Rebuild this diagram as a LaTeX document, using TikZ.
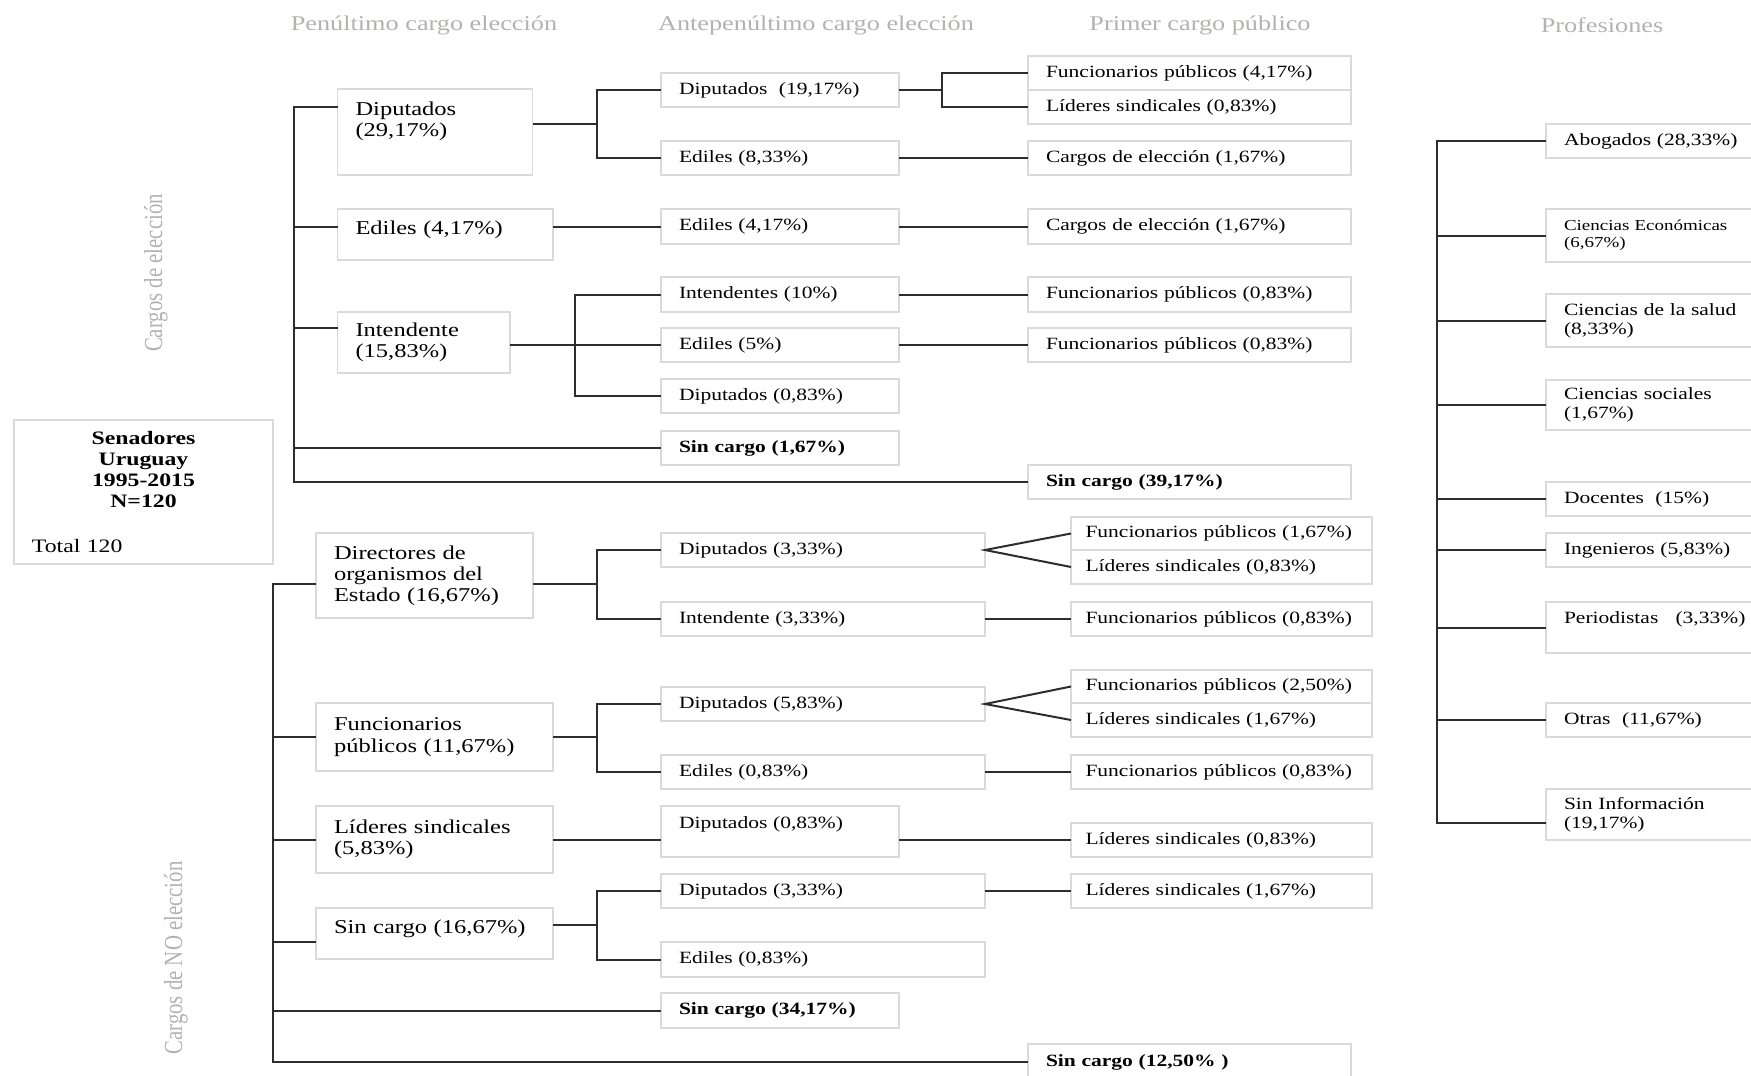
\documentclass[tikz,border=0pt]{standalone}
\usepackage{fontspec}
\setmainfont{Liberation Serif}[FakeStretch=1.25]
\newfontfamily\rotfont{Liberation Serif}[FakeStretch=0.8]
\usepackage{tikz}
\usetikzlibrary{
    positioning,
    calc
}
\definecolor{BoxGray}{RGB}{218,218,218}
\definecolor{LinkGray}{RGB}{45,45,45}
\definecolor{HeadGray}{RGB}{180,178,176}
\newcommand{\fbig}{\fontsize{9.8}{10.6}\selectfont}
\newcommand{\fsen}{\fontsize{9.5}{10.5}\selectfont}
\newcommand{\fmid}{\fontsize{8.6}{9.6}\selectfont}
\newcommand{\fsml}{\fontsize{7.6}{8.5}\selectfont}
\newcommand{\fhead}{\fontsize{10.5}{12}\selectfont}
\newcommand{\pad}[1]{\rule[-#1]{0pt}{#1}}

\begin{document}
\begin{tikzpicture}[
    x=0.5pt, y=-0.5pt,
    box/.style={draw=BoxGray, line width=0.8pt, anchor=north west,
        align=left, inner xsep=9pt, inner ysep=0pt, outer sep=0pt},
    big/.style={box, font=\fbig},
    mid/.style={box, font=\fmid},
    low/.style={mid, text width=136pt, inner xsep=7.25pt},
    link/.style={draw=LinkGray, line width=1pt},
    head/.style={text=HeadGray, font=\fhead},
    side/.style={text=HeadGray, font=\rotfont\fontsize{13}{13}\selectfont, rotate=90}
]

\useasboundingbox (0,0) rectangle (1751,1076);
\clip (0,0) rectangle (1751,1076);

% column titles
\node[head] (H1) at (424,25) {Penúltimo cargo elección};
\node[head] (H2) at (816,25) {Antepenúltimo cargo elección};
\node[head] (H3) at (1200,25) {Primer cargo público};
\node[head] (H4) at (1602,25) {Profesiones};

\node[side] (S1) at (156,273) {Cargos de elección};
\node[side] (S2) at (176,958) {Cargos de NO elección};

% senadores
\node[box, font=\fsen, text width=111.5pt, minimum height=72pt] (sen) at (14,420)
    {{\centering\bfseries Senadores\\Uruguay\\1995-2015\\N=120\par}\vspace{12pt}Total 120};

% cargos de eleccion
\node[big, text width=79.5pt, minimum height=43pt] (dipA) at (337.5,89) {Diputados\\(29,17\%)\pad{12.5pt}};
\node[big, text width=89.75pt, minimum height=25.5pt] (ediA) at (337.5,209) {Ediles (4,17\%)\pad{6.5pt}};
\node[big, text width=68.25pt, minimum height=30.5pt] (intA) at (337.5,312) {Intendente\\(15,83\%)};

\node[mid, text width=101pt, minimum height=17pt] (dipB) at (661,73) {Diputados\ \ (19,17\%)};
\node[mid, text width=101pt, minimum height=17pt] (ediB) at (661,141) {Ediles (8,33\%)};
\node[mid, text width=101pt, minimum height=17.5pt] (ediC) at (661,209) {Ediles (4,17\%)};
\node[mid, text width=101pt, minimum height=17.5pt] (intB) at (661,277) {Intendentes (10\%)};
\node[mid, text width=101pt, minimum height=17pt] (ediD) at (661,328) {Ediles (5\%)};
\node[mid, text width=101pt, minimum height=17pt] (dipC) at (661,379) {Diputados (0,83\%)};
\node[mid, text width=101pt, minimum height=17pt] (sinB) at (661,431) {\bfseries Sin cargo (1,67\%)};

\node[mid, text width=143.5pt, minimum height=17pt] (funA) at (1028,56) {Funcionarios públicos (4,17\%)};
\node[mid, text width=143.5pt, minimum height=17pt] (lidA) at (1028,90) {Líderes sindicales (0,83\%)};
\node[mid, text width=143.5pt, minimum height=17pt] (carA) at (1028,141) {Cargos de elección (1,67\%)};
\node[mid, text width=143.5pt, minimum height=17.5pt] (carB) at (1028,209) {Cargos de elección (1,67\%)};
\node[mid, text width=143.5pt, minimum height=17.5pt] (funB) at (1028,277) {Funcionarios públicos (0,83\%)};
\node[mid, text width=143.5pt, minimum height=17pt] (funC) at (1028,328) {Funcionarios públicos (0,83\%)};
\node[mid, text width=143.5pt, minimum height=17pt] (sinC) at (1028,465) {\bfseries Sin cargo (39,17\%)};

% cargos de NO eleccion
\node[big, text width=90.5pt, minimum height=42.5pt] (dirA) at (316,533) {Directores de\\organismos del\\Estado (16,67\%)};
\node[big, text width=100.5pt, minimum height=34pt] (funD) at (316,703) {Funcionarios\\públicos (11,67\%)};
\node[big, text width=100.5pt, minimum height=33.5pt] (lidD) at (316,806) {Líderes sindicales\\(5,83\%)};
\node[big, text width=100.5pt, minimum height=25.5pt] (sinD) at (316,908) {Sin cargo (16,67\%)\pad{6.5pt}};

\node[mid, text width=144pt, minimum height=17pt] (dipD) at (661,533) {Diputados (3,33\%)};
\node[mid, text width=144pt, minimum height=17pt] (intC) at (661,602) {Intendente (3,33\%)};
\node[mid, text width=144pt, minimum height=17pt] (dipE) at (661,687) {Diputados (5,83\%)};
\node[mid, text width=144pt, minimum height=17pt] (ediE) at (661,755) {Ediles (0,83\%)};
\node[mid, text width=101pt, minimum height=25.5pt] (dipF) at (661,806) {Diputados (0,83\%)\pad{8.5pt}};
\node[mid, text width=144pt, minimum height=17pt] (dipG) at (661,874) {Diputados (3,33\%)};
\node[mid, text width=144pt, minimum height=17.5pt] (ediF) at (661,942) {Ediles (0,83\%)};
\node[mid, text width=101pt, minimum height=17.5pt] (sinE) at (661,993) {\bfseries Sin cargo (34,17\%)};

\node[low, minimum height=16.5pt] (funE) at (1071,517) {Funcionarios públicos (1,67\%)};
\node[low, minimum height=17pt] (lidE) at (1071,550) {Líderes sindicales (0,83\%)};
\node[low, minimum height=17pt] (funF) at (1071,602) {Funcionarios públicos (0,83\%)};
\node[low, minimum height=16.5pt] (funG) at (1071,670) {Funcionarios públicos (2,50\%)};
\node[low, minimum height=17pt] (lidF) at (1071,703) {Líderes sindicales (1,67\%)};
\node[low, minimum height=17pt] (funH) at (1071,755) {Funcionarios públicos (0,83\%)};
\node[low, minimum height=17pt] (lidG) at (1071,823) {Líderes sindicales (0,83\%)};
\node[low, minimum height=17pt] (lidH) at (1071,874) {Líderes sindicales (1,67\%)};
\node[mid, text width=143.5pt, minimum height=18pt] (sinF) at (1028,1044) {\bfseries Sin cargo (12,50\% )};

% profesiones
\node[mid, text width=102pt, minimum height=17pt] (abo) at (1546,124) {Abogados (28,33\%)};
\node[box, font=\fsml, text width=102pt, minimum height=26.5pt] (eco) at (1546,209) {Ciencias Económicas\\(6,67\%)};
\node[mid, text width=102pt, minimum height=26.5pt] (sal) at (1546,294) {Ciencias de la salud\\(8,33\%)};
\node[mid, text width=102pt, minimum height=25pt] (soc) at (1546,380) {Ciencias sociales\\(1,67\%)};
\node[mid, text width=102pt, minimum height=17pt] (doc) at (1546,482) {Docentes\ \ (15\%)};
\node[mid, text width=102pt, minimum height=17pt] (ing) at (1546,533) {Ingenieros (5,83\%)};
\node[mid, text width=102pt, minimum height=25.5pt] (per) at (1546,602) {Periodistas\ \ \ (3,33\%)\pad{9.5pt}};
\node[mid, text width=102pt, minimum height=17pt] (otr) at (1546,703) {Otras\ \ (11,67\%)};
\node[mid, text width=102pt, minimum height=25.5pt] (inf) at (1546,789) {Sin Información\\(19,17\%)};

% trunks and forks
\coordinate (U1) at (294,107);
\coordinate (U2) at (294,328);
\coordinate (L1) at (273,584);
\coordinate (L2) at (273,942);
\coordinate (P2) at (1437,823);
\coordinate (F1) at (597,124);
\coordinate (F2) at (575,346);
\coordinate (F3) at (942,90);
\coordinate (F4) at (597,584);
\coordinate (F5) at (597,737);
\coordinate (F6) at (597,925);

\draw[link] (dipA.west |- U1) -- (U1) |- (sinC.west);
\draw[link] (U1 |- ediC.west) -- (ediA.west |- ediC.west);
\draw[link] (U2) -- (intA.west |- U2);
\draw[link] (U1 |- sinB.west) -- (sinB.west);

\draw[link] (dipA.east |- F1) -- (F1);
\draw[link] (dipB.west) -| (F1) |- (ediB.west);
\draw[link] (ediA.east |- ediC.west) -- (ediC.west);
\draw[link] (intA.east |- ediD.west) -- (ediD.west);
\draw[link] (intB.west) -| (F2) |- (dipC.west);

\draw[link] (dipB.east) -- (F3);
\draw[link] (funA.west) -| (F3) |- (lidA.west);
\draw[link] (ediB.east) -- (carA.west);
\draw[link] (ediC.east) -- (carB.west);
\draw[link] (intB.east) -- (funB.west);
\draw[link] (ediD.east) -- (funC.west);

\draw[link] (dirA.west |- L1) -- (L1) |- (sinF.west);
\draw[link] (L1 |- funD.west) -- (funD.west);
\draw[link] (L1 |- lidD.west) -- (lidD.west);
\draw[link] (L2) -- (sinD.west |- L2);
\draw[link] (L1 |- sinE.west) -- (sinE.west);

\draw[link] (dirA.east |- F4) -- (F4);
\draw[link] (dipD.west) -| (F4) |- (intC.west);
\draw[link] (funD.east) -- (F5);
\draw[link] (dipE.west) -| (F5) |- (ediE.west);
\draw[link] (lidD.east) -- (dipF.west |- lidD.east);
\draw[link] (sinD.east |- F6) -- (F6);
\draw[link] (dipG.west) -| (F6) |- (ediF.west);

\draw[link] (funE.west) -- (dipD.east) -- (lidE.west);
\draw[link] (intC.east) -- (funF.west);
\draw[link] (funG.west) -- (dipE.east) -- (lidF.west);
\draw[link] (ediE.east) -- (funH.west);
\draw[link] (dipF.east |- lidG.west) -- (lidG.west);
\draw[link] (dipG.east) -- (lidH.west);

\draw[link] (abo.west) -| (P2) -- (inf.west |- P2);
\draw[link] (P2 |- eco.west) -- (eco.west);
\draw[link] (P2 |- sal.west) -- (sal.west);
\draw[link] (P2 |- soc.west) -- (soc.west);
\draw[link] (P2 |- doc.west) -- (doc.west);
\draw[link] (P2 |- ing.west) -- (ing.west);
\draw[link] (P2 |- per.west) -- (per.west);
\draw[link] (P2 |- otr.west) -- (otr.west);

\end{tikzpicture}
\end{document}
